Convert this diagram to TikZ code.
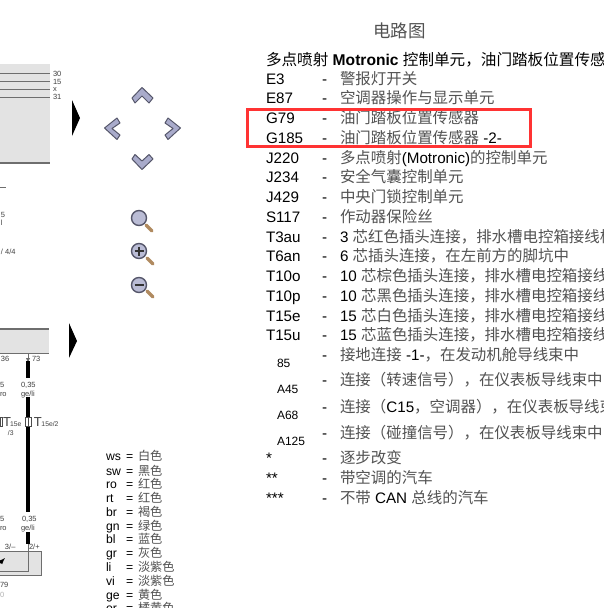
\documentclass[tikz,border=0pt]{standalone}
\usepackage{fontspec}
\setmainfont{Liberation Sans}
\newfontfamily\cjkf{Noto Sans CJK SC}
\newcommand{\C}[1]{{\cjkf\fontsize{15.45}{16}\selectfont\color{black!68}#1}}
\newcommand{\CL}[1]{{\cjkf\color{black!68}#1}}
\definecolor{panelgray}{HTML}{E3E3E3}
\definecolor{linegray}{HTML}{6E6E6E}
\definecolor{iconblue}{HTML}{A9ABCB}
\definecolor{icondark}{HTML}{55566A}
\definecolor{handle}{HTML}{B08A60}
\tikzset{
  txt/.style={anchor=base west,inner sep=0pt,outer sep=0pt,text=black,font=\fontsize{15.2}{16}\selectfont},
  lbl/.style={txt,font=\fontsize{12}{13}\selectfont},
  tiny/.style={txt,text=black!75,font=\fontsize{7.5}{8}\selectfont},
  sub/.style={txt,text=black!75,font=\fontsize{6.8}{8}\selectfont},
  big/.style={txt,text=black!75,font=\fontsize{13}{14}\selectfont},
  leg/.style={txt,font=\fontsize{12.2}{13}\selectfont},
  bus/.style={draw=linegray,line width=1pt},
  wire/.style={draw=black,line width=4.2pt},
  thin/.style={draw=linegray,line width=.8pt},
  panel/.style={fill=panelgray,draw=none},
  chev/.style={fill=iconblue,draw=icondark,line width=1pt,line join=round},
  lens/.style={fill=iconblue!80,draw=icondark,line width=1.4pt},
  hand/.style={draw=handle,line width=3.4pt,line cap=round},
  sign/.style={draw=black!80,line width=1.3pt},
}
\newcommand{\row}[4]{%
  \node[txt] (#1) at (266,#2) {#3};
  \node[txt] (#1d) at (322,#2) {-};
  \node[txt] (#1t) at (340,#2) {#4};}
\newcommand{\lowrow}[5]{%
  \node[lbl] (#1) at (277,#3) {#4};
  \node[txt] (#1d) at (322,#2) {-};
  \node[txt] (#1t) at (340,#2) {#5};}
\newcommand{\legrow}[4]{%
  \node[leg] (#1) at (106,#2) {#3};
  \node[leg] (#1e) at (126,#2) {=};
  \node[leg] (#1t) at (138,#2) {\CL{#4}};}
\begin{document}
\begin{tikzpicture}[x=1pt,y=-1pt]
\useasboundingbox (0,0) rectangle (603,608);
\clip (0,0) rectangle (603,608);
\fill[white] (0,0) rectangle (603,608);

% upper diagram fragment
\fill[panel] (0,64) rectangle (50,163);
\draw[bus] (0,73.5) -- (50,73.5);
\draw[bus] (0,81.5) -- (50,81.5);
\draw[bus] (0,89) -- (50,89);
\draw[bus] (0,97) -- (50,97);
\draw[bus,line width=1.2pt] (0,163) -- (50,163);
\node[tiny] (n30) at (53,76) {30};
\node[tiny] (n15) at (53,84) {15};
\node[tiny] (nx) at (53,91.5) {x};
\node[tiny] (n31) at (53,99.5) {31};
\fill[black] (72,100) -- (80,118) -- (72,136) -- cycle;
\draw[thin] (0,187) -- (6,187);
\node[tiny] (u5) at (1,217) {5};
\node[tiny] (ul) at (1,225) {l};
\node[tiny] (u44) at (1,254) {/ 4/4};

% lower diagram fragment
\fill[panel] (0,329) rectangle (49,353);
\draw[bus,line width=1.1pt] (0,329) -- (49,329);
\draw[bus,line width=1.1pt] (0,353.5) -- (49,353.5);
\fill[black] (69,323) -- (77,341) -- (69,358) -- cycle;
\node[tiny] (p36) at (1,361.5) {36};
\node[tiny] (p73) at (32,361.5) {73};
\draw[thin] (28,354) -- (28,361);
\fill[linegray] (26,358) -- (30,358) -- (28,362) -- cycle;
\draw[wire] (28,361) -- (28,378);
\draw[wire] (28,397) -- (28,512);
\draw[wire] (28,532) -- (28,544);
\node[tiny] (a1) at (21,387) {0,35};
\node[tiny] (a2) at (21,396) {ge/li};
\node[tiny] (b1) at (0,387) {5};
\node[tiny] (b2) at (0,396) {ro};
\node[tiny] (c1) at (22,521) {0,35};
\node[tiny] (c2) at (21,530) {ge/li};
\node[tiny] (d1) at (0,521) {5};
\node[tiny] (d2) at (0,530) {ro};
\draw[draw=black!70,fill=white,line width=.6pt] (25,417) rectangle (31,426);
\draw[draw=black!70,line width=.5pt] (28,417) -- (28,426);
\draw[draw=black!70,fill=white,line width=.6pt] (0,417) rectangle (2,426);
\node[big] (t1) at (3,426) {T};
\node[sub] (t1s) at (10,426) {15e};
\node[sub] (t1b) at (8,435) {/3};
\node[big] (t2) at (34,426) {T};
\node[sub] (t2s) at (41.5,426) {15e/2};
\fill[panel] (0,551) rectangle (41,575);
\draw[bus] (0,551) -- (41,551) -- (41,575.5) -- (0,575.5);
\draw[thin,line width=1pt] (28,544) -- (28,571) -- (0,571);
\node[tiny] (s3) at (5,549) {3/–};
\node[tiny] (s2) at (29,549) {2/+};
\draw[black,line width=1.2pt,-latex] (0,563) -- (5,558);
\node[tiny] (s79) at (0,587) {79};
\node[tiny,text=black!30] (s0) at (0,597) {0};

% navigation icons
\draw[chev] (142,87.5) -- (153,98) -- (149,103) -- (142,96) -- (135,103) -- (132,98) -- cycle;
\draw[chev] (142,169.5) -- (153,159) -- (149,154.5) -- (142,161) -- (135,154.5) -- (132,159) -- cycle;
\draw[chev] (104.5,128) -- (117,118) -- (120,123) -- (112,128.5) -- (120,135) -- (117,139.5) -- cycle;
\draw[chev] (180.5,128) -- (168,118) -- (165,123) -- (173,128.5) -- (165,135) -- (168,139.5) -- cycle;
\draw[hand] (146,225) -- (152,231);
\draw[lens] (139,218) circle (7.5);
\draw[hand] (147,258) -- (153,264);
\draw[lens] (139,251) circle (7.5);
\draw[sign] (134.5,251) -- (143.5,251) (139,246.5) -- (139,255.5);
\draw[hand] (147,291) -- (153,297);
\draw[lens] (139,285) circle (7.5);
\draw[sign] (134.5,285) -- (143.5,285);

% legend
\legrow{ws}{460.5}{ws}{白色}
\legrow{sw}{475}{sw}{黑色}
\legrow{ro}{488}{ro}{红色}
\legrow{rt}{502}{rt}{红色}
\legrow{br}{516}{br}{褐色}
\legrow{gn}{530}{gn}{绿色}
\legrow{bl}{543}{bl}{蓝色}
\legrow{gr}{557}{gr}{灰色}
\legrow{li}{571}{li}{淡紫色}
\legrow{vi}{585}{vi}{淡紫色}
\legrow{ge}{599}{ge}{黄色}
\legrow{og}{612}{or}{橘黄色}

% parts list
\node[txt,font=\fontsize{17.5}{18}\selectfont] (title) at (373,37) {\CL{电路图}};
\node[txt,font=\fontsize{15.6}{16}\selectfont] (head) at (266,65) {{\cjkf 多点喷射} \textbf{Motronic} {\cjkf 控制单元，油门踏板位置传感器}};
\row{e3}{84}{E3}{\C{警报灯开关}}
\row{e87}{103.5}{E87}{\C{空调器操作与显示单元}}
\row{g79}{123}{G79}{\C{油门踏板位置传感器}}
\row{g185}{143}{G185}{\C{油门踏板位置传感器} -2-}
\row{j220}{163}{J220}{\C{多点喷射}(Motronic)\C{的控制单元}}
\row{j234}{182.5}{J234}{\C{安全气囊控制单元}}
\row{j429}{202}{J429}{\C{中央门锁控制单元}}
\row{s117}{222}{S117}{\C{作动器保险丝}}
\row{t3au}{242}{T3au}{3 \C{芯红色插头连接，排水槽电控箱接线板}}
\row{t6an}{261.5}{T6an}{6 \C{芯插头连接，在左前方的脚坑中}}
\row{t10o}{281}{T10o}{10 \C{芯棕色插头连接，排水槽电控箱接线板}}
\row{t10p}{301}{T10p}{10 \C{芯黑色插头连接，排水槽电控箱接线板}}
\row{t15e}{321}{T15e}{15 \C{芯白色插头连接，排水槽电控箱接线板}}
\row{t15u}{340.5}{T15u}{15 \C{芯蓝色插头连接，排水槽电控箱接线板}}
\lowrow{r85}{360}{367}{85}{\C{接地连接} -1-\C{，在发动机舱导线束中}}
\lowrow{a45}{385}{393}{A45}{\C{连接（转速信号），在仪表板导线束中}}
\lowrow{a68}{412}{419}{A68}{\C{连接（}C15\C{，空调器），在仪表板导线束中}}
\lowrow{a125}{438}{445}{A125}{\C{连接（碰撞信号），在仪表板导线束中}}
\row{st1}{463}{*}{\C{逐步改变}}
\row{st2}{483}{**}{\C{带空调的汽车}}
\row{st3}{503}{***}{\C{不带} CAN \C{总线的汽车}}

% highlight
\draw[draw=red!80!white,line width=3pt] (247,109) rectangle (530,146);
\end{tikzpicture}
\end{document}
